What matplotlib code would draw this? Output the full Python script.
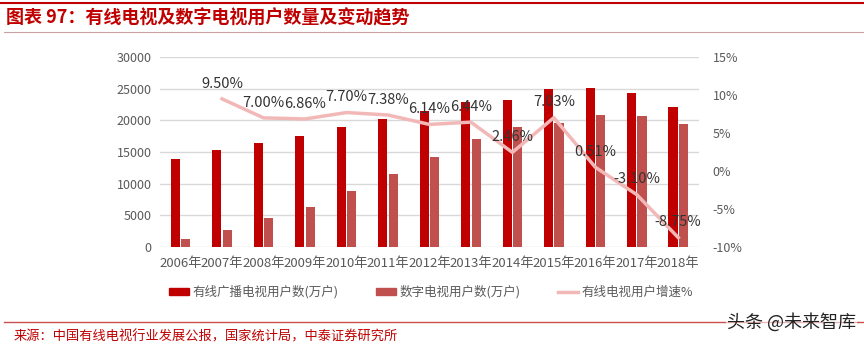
import matplotlib.pyplot as plt
import numpy as np
from matplotlib.lines import Line2D
from matplotlib.patches import Patch

plt.rcParams['font.family'] = ['Noto Sans CJK SC', 'DejaVu Sans']

years = ['2006年', '2007年', '2008年', '2009年', '2010年', '2011年', '2012年',
         '2013年', '2014年', '2015年', '2016年', '2017年', '2018年']
cable_users = [13950, 15300, 16360, 17520, 18890, 20260, 21520,
               22890, 23270, 25010, 25170, 24380, 22100]
digital_users = [1300, 2680, 4580, 6370, 8890, 11520, 14260,
                 17100, 18950, 19640, 20840, 20750, 19420]
growth = [np.nan, 9.50, 7.00, 6.86, 7.70, 7.38, 6.14,
          6.44, 2.46, 7.03, 0.51, -3.10, -8.75]
growth_labels = ['', '9.50%', '7.00%', '6.86%', '7.70%', '7.38%', '6.14%',
                 '6.44%', '2.46%', '7.03%', '0.51%', '-3.10%', '-8.75%']

red = '#C00000'
red2 = '#C0504D'
pink = '#F2B8B8'
grey = '#595959'

fig = plt.figure(figsize=(8.64, 3.48), dpi=100)
ax = fig.add_axes([0.185, 0.290, 0.624, 0.546])
ax2 = ax.twinx()

x = np.arange(len(years))
w = 0.22
ax.bar(x - 0.125, cable_users, w, color=red, zorder=2)
ax.bar(x + 0.125, digital_users, w, color=red2, zorder=2)

ax.set_xlim(-0.5, len(years) - 0.5)
ax.set_ylim(0, 30000)
ax.set_yticks(range(0, 30001, 5000))
ax.grid(axis='y', color='#D9D9D9', linewidth=1, zorder=0)
ax.set_axisbelow(True)
ax.set_xticks(x)
ax.set_xticklabels(years)
ax.tick_params(length=0, labelsize=9, labelcolor=grey, pad=6)
ax.tick_params(axis='x', labelsize=9.5, pad=7)

ax2.plot(x, growth, color=pink, linewidth=2.5, zorder=3)
ax2.set_ylim(-10, 15)
ax2.set_yticks(range(-10, 16, 5))
ax2.set_yticklabels([f'{v}%' for v in range(-10, 16, 5)])
ax2.tick_params(length=0, labelsize=9, labelcolor=grey, pad=10)
for xi, g, lab in zip(x, growth, growth_labels):
    if lab:
        ax2.annotate(lab, (xi, g), xytext=(0, 6), textcoords='offset points',
                     ha='center', va='bottom', fontsize=10.5, color='#333333')

for a in (ax, ax2):
    for s in a.spines.values():
        s.set_visible(False)

handles = [Patch(color=red), Patch(color=red2),
           Line2D([], [], color=pink, linewidth=2.5)]
labels = ['有线广播电视用户数(万户)', '数字电视用户数(万户)', '有线电视用户增速%']
fig.legend(handles, labels, loc='center', bbox_to_anchor=(431 / 864, 1 - 292 / 348),
           ncol=3, frameon=False, fontsize=9, labelcolor=grey,
           handlelength=1.6, handleheight=0.5, handletextpad=0.3, columnspacing=3.0)

# header / footer
fig.add_artist(Line2D([0, 1], [1 - 3 / 348] * 2, color=red, linewidth=1.5))
fig.add_artist(Line2D([0.005, 1], [1 - 32 / 348] * 2, color='#C9A0A0', linewidth=0.8))
fig.text(6 / 864, 1 - 18 / 348, '图表 97：有线电视及数字电视用户数量及变动趋势',
         color=red, fontsize=13, fontweight='bold', style='italic', va='center')
fig.add_artist(Line2D([4 / 864, 1], [1 - 322 / 348] * 2, color='#C85050', linewidth=1))
fig.text(14 / 864, 1 - 337 / 348, '来源：中国有线电视行业发展公报，国家统计局，中泰证券研究所',
         color=red, fontsize=9.5, va='center')
fig.text(856 / 864, 1 - 322 / 348, '头条 @未来智库', color='#222222', fontsize=13,
         ha='right', va='center',
         bbox=dict(facecolor='white', edgecolor='none', pad=1, alpha=0.6))

fig.savefig('out.png', dpi=100)
